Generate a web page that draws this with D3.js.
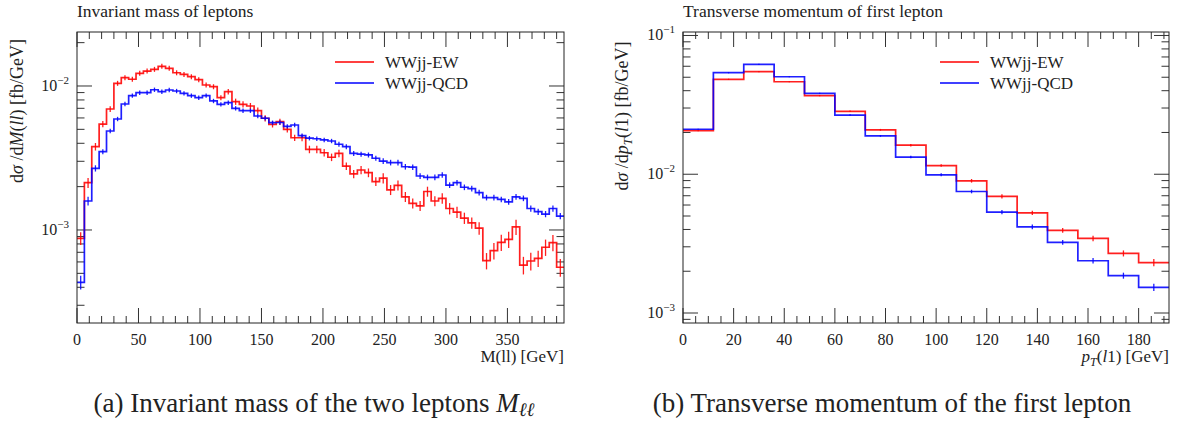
<!DOCTYPE html>
<html lang="en">
<head>
<meta charset="utf-8">
<title>WWjj lepton distributions</title>
<style>
  body { margin: 0; background: #fff; }
  svg { display: block; font-family: 'Liberation Serif', 'DejaVu Serif', serif; fill: #222; }
  .frame { fill: none; stroke: #222; stroke-width: 1; }
  .tick { stroke: #333; stroke-width: 1; }
  .hist { fill: none; stroke-width: 1.7; stroke-opacity: 0.88; }
  .err { stroke-width: 1.3; stroke-opacity: 0.88; }
</style>
</head>
<body>
<svg id="chart" width="1180" height="423"></svg>
<script src="https://cdnjs.cloudflare.com/ajax/libs/d3/7.8.5/d3.min.js"></script>
<script>
// ---- data ----
var seriesNames = ['WWjj-EW', 'WWjj-QCD'];
var seriesColors = ['#ff0000', '#0000ff'];

// invariant mass of the two leptons, 6 GeV bins from 0 to 396
var mllBinWidth = 6;
var mllEW = [
  8.75e-4, 2.13e-3, 3.79e-3, 5.44e-3, 6.92e-3, 1.044e-2, 1.142e-2, 1.114e-2, 1.225e-2, 1.27e-2,
  1.306e-2, 1.37e-2, 1.327e-2, 1.236e-2, 1.205e-2, 1.16e-2, 1.107e-2, 1.016e-2, 9.89e-3, 8.30e-3,
  9.13e-3, 7.78e-3, 7.46e-3, 7.26e-3, 6.74e-3, 5.97e-3, 5.42e-3, 5.65e-3, 5.00e-3, 4.37e-3,
  4.37e-3, 3.63e-3, 3.63e-3, 3.44e-3, 3.20e-3, 3.40e-3, 2.78e-3, 2.45e-3, 2.61e-3, 2.50e-3,
  2.17e-3, 2.29e-3, 1.90e-3, 2.04e-3, 1.70e-3, 1.53e-3, 1.47e-3, 1.85e-3, 1.59e-3, 1.66e-3,
  1.41e-3, 1.33e-3, 1.21e-3, 1.12e-3, 1.03e-3, 6.12e-4, 7.18e-4, 8.21e-4, 8.60e-4, 1.05e-3,
  5.71e-4, 6.09e-4, 6.36e-4, 7.59e-4, 8.17e-4, 5.51e-4
];
var mllQCD = [
  4.33e-4, 1.59e-3, 2.68e-3, 3.50e-3, 4.87e-3, 5.90e-3, 7.50e-3, 8.57e-3, 8.99e-3, 8.99e-3,
  9.42e-3, 9.13e-3, 9.38e-3, 9.23e-3, 8.90e-3, 8.57e-3, 8.30e-3, 8.57e-3, 7.87e-3, 7.46e-3,
  7.66e-3, 7.00e-3, 6.74e-3, 6.74e-3, 6.19e-3, 5.97e-3, 5.56e-3, 5.58e-3, 5.25e-3, 5.36e-3,
  4.52e-3, 4.34e-3, 4.30e-3, 4.22e-3, 4.15e-3, 3.94e-3, 3.79e-3, 3.40e-3, 3.36e-3, 3.32e-3,
  3.15e-3, 3.01e-3, 2.94e-3, 2.94e-3, 2.75e-3, 2.73e-3, 2.37e-3, 2.32e-3, 2.32e-3, 2.41e-3,
  2.05e-3, 2.13e-3, 1.98e-3, 1.94e-3, 1.82e-3, 1.68e-3, 1.68e-3, 1.63e-3, 1.57e-3, 1.70e-3,
  1.66e-3, 1.41e-3, 1.34e-3, 1.29e-3, 1.41e-3, 1.25e-3
];
// relative (fractional) half-height of the error bars
var mllEWErr = [
  0.10, 0.08, 0.06, 0.05, 0.045, 0.04, 0.04, 0.04, 0.04, 0.04,
  0.04, 0.04, 0.04, 0.04, 0.04, 0.04, 0.04, 0.04, 0.04, 0.04,
  0.045, 0.05, 0.05, 0.05, 0.05, 0.05, 0.05, 0.05, 0.05, 0.05,
  0.055, 0.06, 0.06, 0.06, 0.06, 0.06, 0.06, 0.065, 0.065, 0.07,
  0.07, 0.08, 0.08, 0.08, 0.08, 0.08, 0.08, 0.08, 0.08, 0.085,
  0.09, 0.09, 0.09, 0.09, 0.10, 0.13, 0.13, 0.13, 0.13, 0.12,
  0.14, 0.14, 0.13, 0.13, 0.13, 0.14
];
var mllQCDErr = [
  0.11, 0.07, 0.05, 0.04, 0.035, 0.035, 0.035, 0.035, 0.035, 0.035,
  0.035, 0.035, 0.035, 0.035, 0.035, 0.035, 0.035, 0.035, 0.035, 0.035,
  0.035, 0.035, 0.035, 0.035, 0.035, 0.035, 0.035, 0.035, 0.035, 0.035,
  0.035, 0.035, 0.035, 0.035, 0.035, 0.04, 0.04, 0.04, 0.04, 0.04,
  0.04, 0.045, 0.045, 0.045, 0.045, 0.045, 0.045, 0.045, 0.045, 0.045,
  0.045, 0.045, 0.045, 0.045, 0.045, 0.045, 0.045, 0.045, 0.045, 0.045,
  0.045, 0.05, 0.05, 0.05, 0.05, 0.05
];

// transverse momentum of the first lepton, 12 GeV bins from 0 to 192
var ptBinWidth = 12;
var ptEW = [0.0206, 0.0483, 0.0548, 0.0464, 0.0368, 0.0284, 0.0209, 0.0162,
            0.01155, 0.00897, 0.00692, 0.00527, 0.00394, 0.00345, 0.00269, 0.00231];
var ptQCD = [0.0211, 0.0539, 0.0620, 0.0504, 0.0383, 0.0267, 0.0189, 0.0133,
             0.0099, 0.00751, 0.00534, 0.00418, 0.00323, 0.00238, 0.00186, 0.00153];
var ptEWErr = [0.01, 0.01, 0.01, 0.01, 0.01, 0.012, 0.015, 0.02,
               0.02, 0.03, 0.035, 0.035, 0.04, 0.045, 0.05, 0.06];
var ptQCDErr = [0.01, 0.01, 0.01, 0.01, 0.01, 0.012, 0.015, 0.02,
                0.025, 0.03, 0.035, 0.04, 0.04, 0.045, 0.05, 0.06];

var svg = d3.select('#chart');

// text made of pieces: {t, i (italic), sub, sup}
function richText(sel, parts, size) {
  var shift = 0;
  parts.forEach(function (p) {
    var ts = sel.append('tspan').text(p.t);
    var target = p.sub ? 4 : (p.sup ? -7 : 0);
    if (target !== shift) ts.attr('dy', target - shift);
    shift = target;
    if (p.i) ts.attr('font-style', 'italic');
    if (p.sub || p.sup) ts.attr('font-size', Math.round(size * 0.7));
  });
  return sel;
}

function drawPanel(cfg) {
  var g = svg.append('g');
  var edges = d3.range(cfg.series[0].values.length + 1).map(function (i) { return i * cfg.binWidth; });
  var x = d3.scaleLinear().domain([0, edges[edges.length - 1]]).range([cfg.left, cfg.right]);
  var y = d3.scaleLog().domain(cfg.yDomain).range([cfg.bottom, cfg.top]);

  var clipId = 'clip' + cfg.id;
  g.append('clipPath').attr('id', clipId).append('rect')
    .attr('x', cfg.left).attr('y', cfg.top)
    .attr('width', cfg.right - cfg.left).attr('height', cfg.bottom - cfg.top);

  // y ticks (log), on both sides, pointing inward
  y.ticks().forEach(function (v) {
    var lv = Math.log10(v);
    var major = Math.abs(lv - Math.round(lv)) < 1e-9;
    var len = major ? 15 : 7.5;
    var py = y(v);
    g.append('line').attr('class', 'tick')
      .attr('x1', cfg.left).attr('x2', cfg.left + len).attr('y1', py).attr('y2', py);
    g.append('line').attr('class', 'tick')
      .attr('x1', cfg.right).attr('x2', cfg.right - len).attr('y1', py).attr('y2', py);
    if (major) {
      var t = g.append('text').attr('x', cfg.left - 8).attr('y', py + 5)
        .attr('text-anchor', 'end').attr('font-size', 16);
      richText(t, [{t: '10'}, {t: '\u2212' + Math.abs(Math.round(lv)), sup: true}], 16);
    }
  });

  // x ticks, bottom and top
  d3.range(0, x.domain()[1] + 1e-9, cfg.xMinor).forEach(function (v) {
    var major = v % cfg.xMajor === 0;
    var len = major ? 15 : 7;
    var px = x(v);
    g.append('line').attr('class', 'tick')
      .attr('x1', px).attr('x2', px).attr('y1', cfg.bottom).attr('y2', cfg.bottom - len);
    g.append('line').attr('class', 'tick')
      .attr('x1', px).attr('x2', px).attr('y1', cfg.top).attr('y2', cfg.top + len);
    if (major) {
      g.append('text').attr('x', px).attr('y', cfg.bottom + 22)
        .attr('text-anchor', 'middle').attr('font-size', 16).text(v);
    }
  });

  // histograms with error bars
  var line = d3.line()
    .x(function (d) { return x(d[0]); })
    .y(function (d) { return y(d[1]); })
    .curve(d3.curveStepAfter);

  cfg.series.forEach(function (s, k) {
    var pts = s.values.map(function (v, i) { return [edges[i], v]; });
    pts.push([edges[edges.length - 1], s.values[s.values.length - 1]]);
    var hg = g.append('g').attr('clip-path', 'url(#' + clipId + ')');
    hg.append('path').attr('class', 'hist').attr('stroke', seriesColors[k]).attr('d', line(pts));
    hg.selectAll('line.err').data(s.values).enter().append('line')
      .attr('class', 'err').attr('stroke', seriesColors[k])
      .attr('x1', function (d, i) { return x(edges[i] + cfg.binWidth / 2); })
      .attr('x2', function (d, i) { return x(edges[i] + cfg.binWidth / 2); })
      .attr('y1', function (d, i) { return y(d * (1 - s.err[i])); })
      .attr('y2', function (d, i) { return y(d * (1 + s.err[i])); });
  });

  g.append('rect').attr('class', 'frame')
    .attr('x', cfg.left).attr('y', cfg.top)
    .attr('width', cfg.right - cfg.left).attr('height', cfg.bottom - cfg.top);

  // legend
  seriesNames.forEach(function (name, k) {
    var ly = cfg.legendY + k * 21;
    g.append('line').attr('x1', cfg.legendX).attr('x2', cfg.legendX + 39)
      .attr('y1', ly).attr('y2', ly)
      .attr('stroke', seriesColors[k]).attr('stroke-width', 1.6);
    g.append('text').attr('x', cfg.legendX + 50).attr('y', ly + 5.5)
      .attr('font-size', 17).text(name);
  });

  // titles and axis labels
  g.append('text').attr('x', cfg.left).attr('y', 17).attr('font-size', 17.5).text(cfg.title);
  richText(g.append('text').attr('x', cfg.right).attr('y', 362)
    .attr('text-anchor', 'end').attr('font-size', 17), cfg.xLabel, 17);
  richText(g.append('text')
    .attr('transform', 'translate(' + cfg.yLabelX + ',' + cfg.yLabelY + ') rotate(-90)')
    .attr('text-anchor', 'middle').attr('font-size', 18), cfg.yLabel, 18);
  richText(g.append('text').attr('x', cfg.captionX).attr('y', 412)
    .attr('text-anchor', 'middle').attr('font-size', 27), cfg.caption, 27);
}

drawPanel({
  id: 'a', left: 77, right: 564, top: 32, bottom: 323,
  binWidth: mllBinWidth, xMinor: 10, xMajor: 50,
  yDomain: [Math.pow(10, -3.646), Math.pow(10, -1.625)],
  series: [{values: mllEW, err: mllEWErr}, {values: mllQCD, err: mllQCDErr}],
  legendX: 335, legendY: 62,
  title: 'Invariant mass of leptons',
  xLabel: [{t: 'M(ll) [GeV]'}],
  yLabel: [{t: 'd'}, {t: '\u03c3', i: true}, {t: ' /d'}, {t: 'M', i: true}, {t: '('},
           {t: 'll', i: true}, {t: ') [fb/GeV]'}],
  yLabelX: 23, yLabelY: 111,
  caption: [{t: '(a) Invariant mass of the two leptons '}, {t: 'M', i: true},
            {t: '\u2113\u2113', i: true, sub: true}],
  captionX: 314
});

drawPanel({
  id: 'b', left: 683, right: 1169, top: 32, bottom: 323,
  binWidth: ptBinWidth, xMinor: 5, xMajor: 20,
  yDomain: [Math.pow(10, -3.072), Math.pow(10, -0.975)],
  series: [{values: ptEW, err: ptEWErr}, {values: ptQCD, err: ptQCDErr}],
  legendX: 940, legendY: 62,
  title: 'Transverse momentum of first lepton',
  xLabel: [{t: 'p', i: true}, {t: 'T', i: true, sub: true}, {t: '('}, {t: 'l', i: true},
           {t: '1) [GeV]'}],
  yLabel: [{t: 'd'}, {t: '\u03c3', i: true}, {t: ' /d'}, {t: 'p', i: true},
           {t: 'T', i: true, sub: true}, {t: '('}, {t: 'l', i: true}, {t: '1) [fb/GeV]'}],
  yLabelX: 628, yLabelY: 116,
  caption: [{t: '(b) Transverse momentum of the first lepton'}],
  captionX: 892
});
</script>
</body>
</html>
